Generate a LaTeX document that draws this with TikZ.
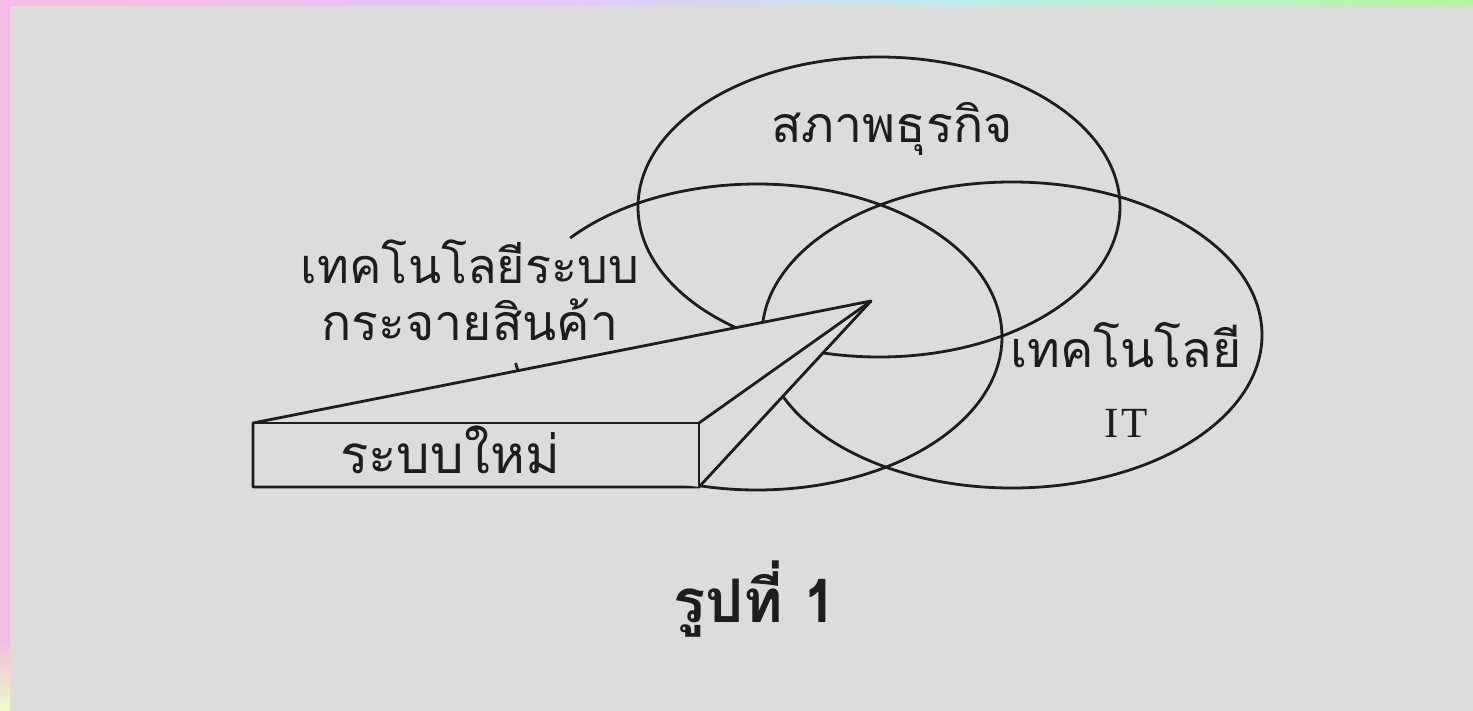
\documentclass[tikz,border=0pt]{standalone}
\usepackage{fontspec}
\newfontfamily\thaifont[Script=Thai]{Loma}
\newfontfamily\latinserif{Liberation Serif}
\tikzset{
  ring/.style={draw=ink, line width=2.8pt},
  solid3d/.style={draw=ink, line width=2.8pt, line join=round, fill=paper},
  thlabel/.style={anchor=base, inner sep=0pt, text=ink, font=\thaifont\fontsize{50}{56}\selectfont}
}

\begin{document}
\begin{tikzpicture}[x=1pt, y=-1pt]
\definecolor{paper}{RGB}{221,220,219}
\definecolor{ink}{RGB}{30,28,28}
\definecolor{sPink}{RGB}{244,188,228}
\definecolor{sLav}{RGB}{236,196,250}
\definecolor{sCyan}{RGB}{190,235,238}
\definecolor{sGreen}{RGB}{185,245,160}
\definecolor{sYel}{RGB}{238,250,200}

\useasboundingbox (0,0) rectangle (1473,711);
\fill[paper] (0,0) rectangle (1473,711);
\shade[left color=sPink, right color=sLav] (0,0) rectangle (500,6);
\shade[left color=sLav, right color=sCyan] (500,0) rectangle (950,6);
\shade[left color=sCyan, right color=sGreen] (950,0) rectangle (1473,6);
\fill[sPink] (0,0) rectangle (10,640);
\shade[top color=sPink, bottom color=sYel] (0,640) rectangle (10,711);

\coordinate (cT) at (879,207);
\coordinate (cL) at (757,337);
\coordinate (cR) at (1012,335);

\draw[ring] (cT) ellipse [x radius=241, y radius=150];
\draw[ring] (cR) ellipse [x radius=250, y radius=153];
\draw[ring] (cL) ++(220.3:245 and 153) arc[start angle=220.3, end angle=530.2, x radius=245, y radius=153];

\coordinate (boxTL) at (253,423);
\coordinate (boxTR) at (699,423);
\coordinate (boxBR) at (699,487);
\coordinate (boxBL) at (253,487);
\coordinate (tip) at (871,301);

\draw[solid3d] (boxTL) -- (tip) -- (boxBR) -- (boxBL) -- cycle;
\draw[solid3d] (boxTL) -- (boxTR) -- (boxBR);
\draw[solid3d] (boxTR) -- (tip);

\node[thlabel] (biz) at (892,143) {สภาพธุรกิจ};
\node[thlabel, font=\thaifont\fontsize{48.5}{54}\selectfont] (dist1) at (470,284) {เทคโนโลยีระบบ};
\node[thlabel] (dist2) at (470,341) {กระจายสินค้า};
\node[thlabel] (tech) at (1126,367) {เทคโนโลยี};
\node[anchor=base, inner sep=0pt, text=ink, font=\latinserif\fontsize{43}{46}\selectfont] (it) at (1126,437) {I\kern3pt T};
\node[thlabel, font=\thaifont\fontsize{53}{58}\selectfont] (newsys) at (450,473) {ระบบใหม่};
\node[anchor=base, inner sep=0pt, text=ink, font=\thaifont\bfseries\fontsize{60}{66}\selectfont] (cap) at (755,622) {รูปที่ 1};
\end{tikzpicture}
\end{document}
